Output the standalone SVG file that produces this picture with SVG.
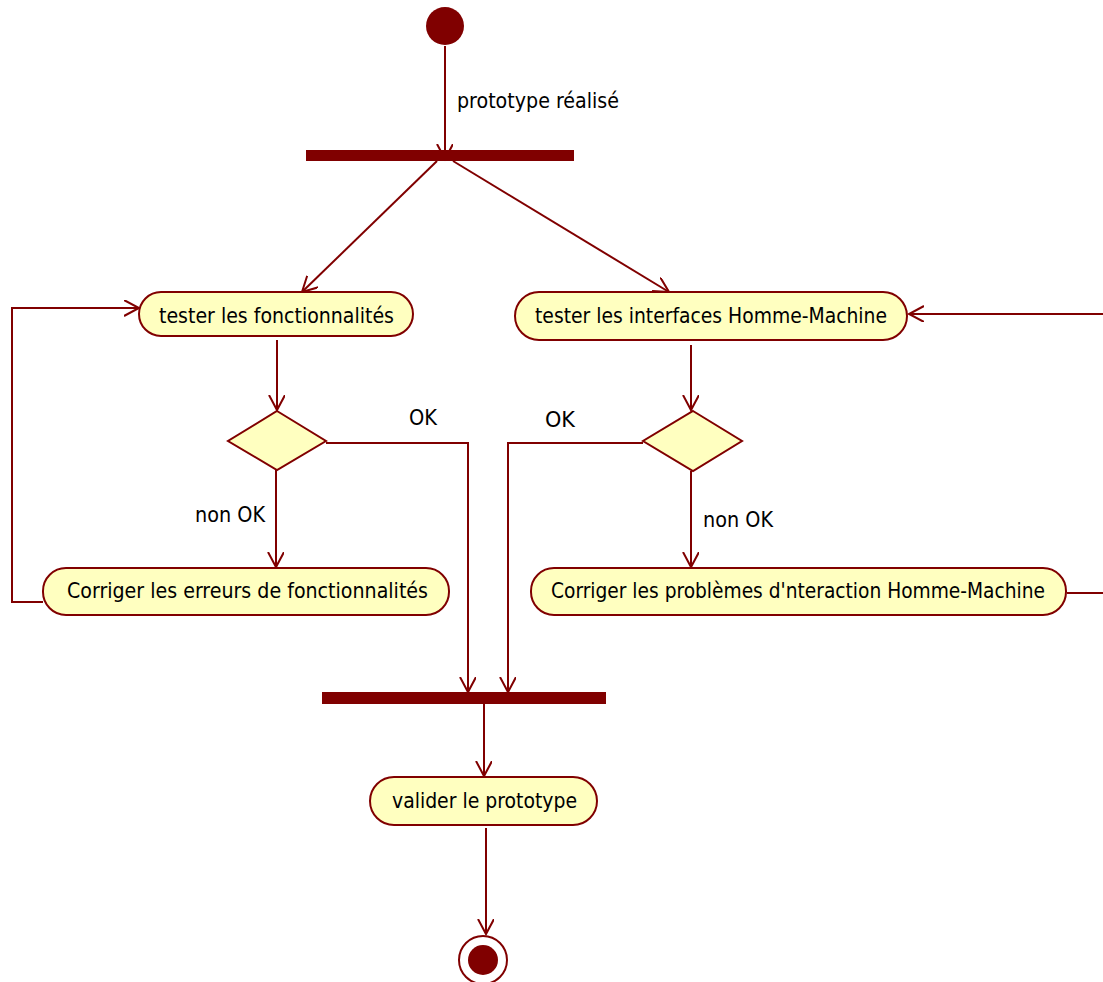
<svg xmlns="http://www.w3.org/2000/svg" width="1103" height="982" viewBox="0 0 1103 982">
<style>
.n{fill:#FFFFC0;stroke:#800000;stroke-width:2}
.c{fill:none;stroke:#800000;stroke-width:2}
.t{font-family:"DejaVu Sans Condensed","Liberation Sans",sans-serif;font-size:20.5px;fill:#000}
.s{fill:#800000}
</style>
<defs>
<marker id="a" markerUnits="userSpaceOnUse" markerWidth="20" markerHeight="20" refX="15" refY="8" orient="auto" viewBox="0 0 20 20">
<path d="M0,0 L15,8 L0,16" fill="none" stroke="#800000" stroke-width="2"/>
</marker>
</defs>
<rect width="1103" height="982" fill="#fff"/>
<g id="connectors">
<path class="c" d="M445,46 L445,159" marker-end="url(#a)"/>
<path class="c" d="M437,161 L302,292" marker-end="url(#a)"/>
<path class="c" d="M453,161 L669,292" marker-end="url(#a)"/>
<path class="c" d="M277,340 L277,410" marker-end="url(#a)"/>
<path class="c" d="M326,443 L468,443 L468,692" marker-end="url(#a)"/>
<path class="c" d="M276,470 L276,567" marker-end="url(#a)"/>
<path class="c" d="M43,602 L12,602 L12,308 L139,308" marker-end="url(#a)"/>
<path class="c" d="M1103,314 L909,314" marker-end="url(#a)"/>
<path class="c" d="M691,345 L691,410" marker-end="url(#a)"/>
<path class="c" d="M643,443 L508,443 L508,692" marker-end="url(#a)"/>
<path class="c" d="M691,471 L691,567" marker-end="url(#a)"/>
<path class="c" d="M1067,593 L1103,593"/>
<path class="c" d="M484,704 L484,776" marker-end="url(#a)"/>
<path class="c" d="M486,828 L486,934" marker-end="url(#a)"/>
<text class="t" x="457" y="108" textLength="162" lengthAdjust="spacingAndGlyphs">prototype réalisé</text>
<text class="t" x="409" y="425" textLength="28" lengthAdjust="spacingAndGlyphs">OK</text>
<text class="t" x="195" y="522" textLength="70" lengthAdjust="spacingAndGlyphs">non OK</text>
<text class="t" x="545" y="427" textLength="30" lengthAdjust="spacingAndGlyphs">OK</text>
<text class="t" x="703" y="527" textLength="70" lengthAdjust="spacingAndGlyphs">non OK</text>
</g>
<g id="start"><circle class="s" cx="445" cy="26" r="19"/></g>
<g id="fork"><rect class="s" x="306" y="150" width="268" height="11"/></g>
<g id="tester-fonct">
<rect class="n" x="139" y="292" width="274" height="44" rx="22"/>
<text class="t" x="159" y="323" textLength="235" lengthAdjust="spacingAndGlyphs">tester les fonctionnalités</text>
</g>
<g id="dec1"><polygon class="n" points="277,411 326,441 277,470 228,441"/></g>
<g id="corriger-fonct">
<rect class="n" x="43" y="568" width="406" height="47" rx="23"/>
<text class="t" x="67" y="598" textLength="361" lengthAdjust="spacingAndGlyphs">Corriger les erreurs de fonctionnalités</text>
</g>
<g id="tester-ihm">
<rect class="n" x="515" y="292" width="392" height="48" rx="24"/>
<text class="t" x="535" y="323" textLength="352" lengthAdjust="spacingAndGlyphs">tester les interfaces Homme-Machine</text>
</g>
<g id="dec2"><polygon class="n" points="693,411 742,441 693,471 643,441"/></g>
<g id="corriger-ihm">
<rect class="n" x="531" y="568" width="535" height="47" rx="23"/>
<text class="t" x="551" y="598" textLength="494" lengthAdjust="spacingAndGlyphs">Corriger les problèmes d'nteraction Homme-Machine</text>
</g>
<g id="join"><rect class="s" x="322" y="692" width="284" height="12"/></g>
<g id="valider">
<rect class="n" x="370" y="777" width="227" height="48" rx="24"/>
<text class="t" x="392" y="808" textLength="185" lengthAdjust="spacingAndGlyphs">valider le prototype</text>
</g>
<g id="end">
<circle cx="483" cy="960" r="24" fill="#fff" stroke="#800000" stroke-width="2"/>
<circle class="s" cx="483" cy="960" r="15"/>
</g>
</svg>
